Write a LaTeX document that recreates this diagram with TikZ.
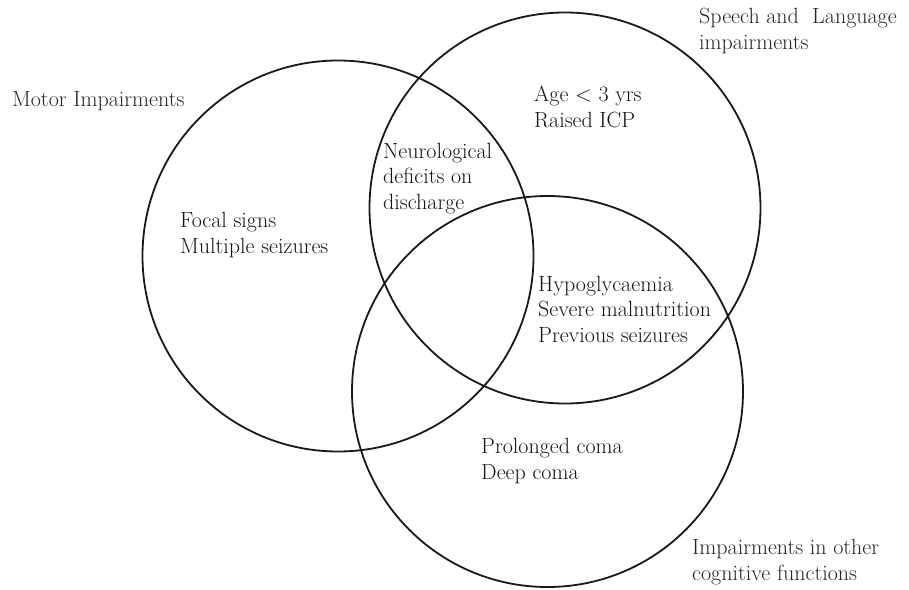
\documentclass[tikz,border=0pt]{standalone}
\usepackage{tikz}
\usetikzlibrary{positioning}

\definecolor{labelgrey}{HTML}{262626}

\begin{document}
\begin{tikzpicture}[
    x=1pt, y=-1pt,
    setcircle/.style={draw=black!90, line width=1.8pt, circle, inner sep=0pt,
                      minimum size=391pt},
    setlabel/.style={anchor=base west, inner sep=0pt, align=left, text=labelgrey,
                     font=\fontsize{22}{25.5}\selectfont},
    setitem/.style={anchor=base west, inner sep=0pt, align=left, text=black!92,
                    font=\fontsize{22}{25.5}\selectfont}
]
    \useasboundingbox (0,0) rectangle (909,589);

    % ========== Sets ==========
    \node[setcircle] (motor)  at (338, 256)   {};
    \node[setcircle] (speech) at (565, 208)   {};
    \node[setcircle] (cogn)   at (547.5, 391.5) {};

    % ========== Set names (base = last line) ==========
    \node[setlabel] (motor_name)  at (12, 106)  {Motor Impairments};
    \node[setlabel] (speech_name) at (699, 49)  {%
        Speech and\ \ Language\\
        impairments};
    \node[setlabel] (cogn_name)   at (692, 580) {%
        Impairments in other\\
        cognitive functions};

    % ========== Risk factors ==========
    \node[setitem] (motor_only)  at (180, 253) {%
        Focal signs\\
        Multiple seizures};
    \node[setitem] (speech_only) at (534, 127) {%
        Age < 3 yrs\\
        Raised ICP};
    \node[setitem] (motor_speech) at (383, 209) {%
        Neurological\\
        deficits on\\
        discharge};
    \node[setitem] (speech_cogn) at (538, 342) {%
        Hypoglycaemia\\
        Severe malnutrition\\
        Previous seizures};
    \node[setitem] (cogn_only)   at (481, 479) {%
        Prolonged coma\\
        Deep coma};
\end{tikzpicture}
\end{document}
